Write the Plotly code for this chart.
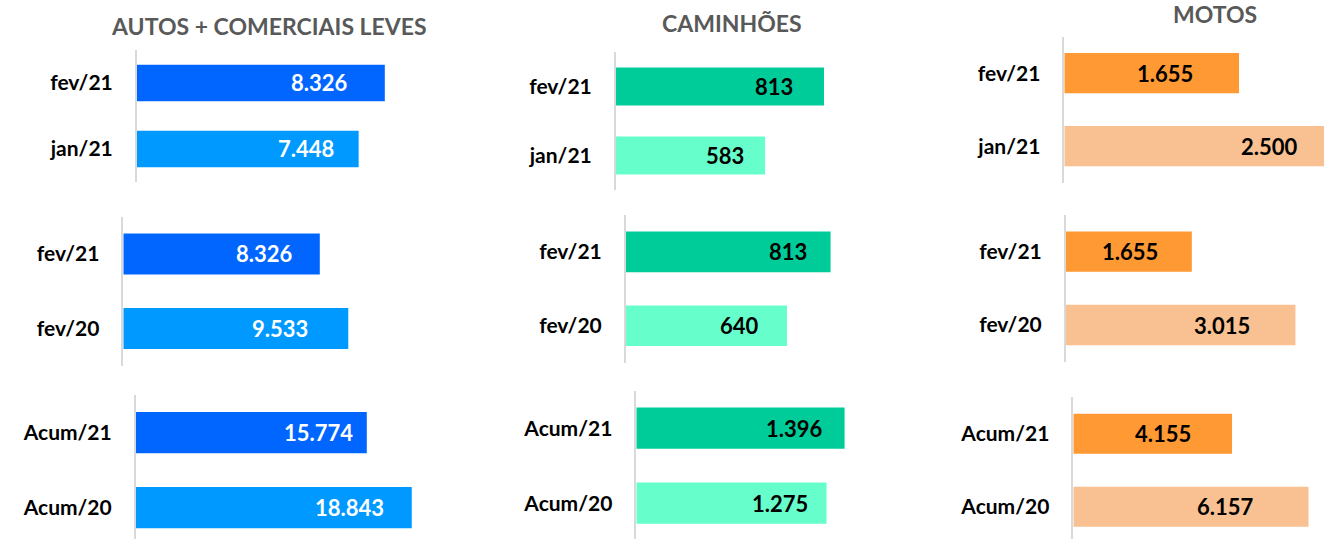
import plotly.graph_objects as go

W, H = 1324, 539

# ---------------- data ----------------
group_titles = ["AUTOS + COMERCIAIS LEVES", "CAMINHÕES", "MOTOS"]
cats_month = ["fev/21", "jan/21"]
cats_year = ["fev/21", "fev/20"]
cats_acum = ["Acum/21", "Acum/20"]

autos_month = [8326, 7448]
autos_year = [8326, 9533]
autos_acum = [15774, 18843]

cam_month = [813, 583]
cam_year = [813, 640]
cam_acum = [1396, 1275]

motos_month = [1655, 2500]
motos_year = [1655, 3015]
motos_acum = [4155, 6157]

# ---------------- styles ----------------
group_colors = [["#0066FF", "#0099FF"], ["#00CC99", "#66FFCC"], ["#FF9933", "#F9C091"]]
group_text_colors = ["#FFFFFF", "#000000", "#000000"]
FONT = "Lato"

# panel geometry in pixels: axis x, right limit, axis top, axis bottom (full), px per unit
geom = [
    [(136.7, 470, 50, 182, 0.0298), (123.3, 470, 216.7, 365.7, 0.0236), (135.7, 470, 395, 545, 0.01465)],
    [(615.7, 900, 52, 190, 0.2562), (625.7, 900, 215, 362.7, 0.252), (636.3, 900, 390.7, 540.7, 0.1492)],
    [(1064.3, 1324, 36.7, 182.7, 0.10556), (1065.7, 1324, 215, 361.7, 0.0762), (1073.3, 1324, 397.3, 543.3, 0.0382)],
]
# label centre offset (px) from bar end
label_offsets = [
    [(-65, -53), (-55, -68), (-48, -62)],
    [(-50, -40), (-43, -47), (-50, -47)],
    [(-74, -59), (-62, -73), (-69, -83)],
]
title_pos = [(269, 26), (732, 23), (1215, 14)]

data = [
    [(cats_month, autos_month), (cats_year, autos_year), (cats_acum, autos_acum)],
    [(cats_month, cam_month), (cats_year, cam_year), (cats_acum, cam_acum)],
    [(cats_month, motos_month), (cats_year, motos_year), (cats_acum, motos_acum)],
]


def fmt(v):
    return f"{v:,}".replace(",", ".")


fig = go.Figure()
annotations = []
idx = 0
for g in range(3):
    for p in range(3):
        idx += 1
        cats, vals = data[g][p]
        x0, xr, top, bottom, scale = geom[g][p]
        xname = "x" if idx == 1 else f"x{idx}"
        yname = "y" if idx == 1 else f"y{idx}"
        fig.add_trace(go.Bar(
            x=vals, y=cats, orientation="h",
            marker=dict(color=group_colors[g], line=dict(width=0)),
            xaxis=xname, yaxis=yname, hoverinfo="x+y", showlegend=False,
        ))
        bclip = min(bottom, H)
        band = (bottom - top) / 2.0
        r_bottom = 1.5 - (bottom - bclip) / band
        xa = dict(domain=[x0 / W, xr / W], range=[0, (xr - x0) / scale],
                  visible=False, anchor=yname, fixedrange=True)
        ya = dict(domain=[(H - bclip) / H, (H - top) / H], range=[r_bottom, -0.5],
                  type="category", categoryarray=cats, categoryorder="array",
                  showline=True, linecolor="#D9D9D9", linewidth=1.5,
                  showgrid=False, zeroline=False, ticks="", ticklabelstandoff=18,
                  tickfont=dict(family=FONT, size=21, color="#000000", weight="bold"),
                  anchor=xname, fixedrange=True)
        key = "" if idx == 1 else str(idx)
        fig.layout["xaxis" + key] = xa
        fig.layout["yaxis" + key] = ya
        for i, (c, v) in enumerate(zip(cats, vals)):
            annotations.append(dict(
                x=v + label_offsets[g][p][i] / scale, y=c, xref=xname, yref=yname,
                text=fmt(v), showarrow=False, xanchor="center", yanchor="middle",
                font=dict(family=FONT, size=22, color=group_text_colors[g], weight="bold"),
            ))
    tx, ty = title_pos[g]
    annotations.append(dict(
        x=tx / W, y=1 - ty / H, xref="paper", yref="paper", text=group_titles[g],
        showarrow=False, xanchor="center", yanchor="middle",
        font=dict(family=FONT, size=23, color="#595959", weight="bold"),
    ))

fig.update_layout(
    width=W, height=H, margin=dict(l=0, r=0, t=0, b=0),
    paper_bgcolor="white", plot_bgcolor="rgba(0,0,0,0)",
    bargap=0.45, annotations=annotations, showlegend=False,
)
fig.write_html("out.html", config={"displayModeBar": False},
               post_script="document.body.style.margin='0';document.body.style.overflow='hidden';")
